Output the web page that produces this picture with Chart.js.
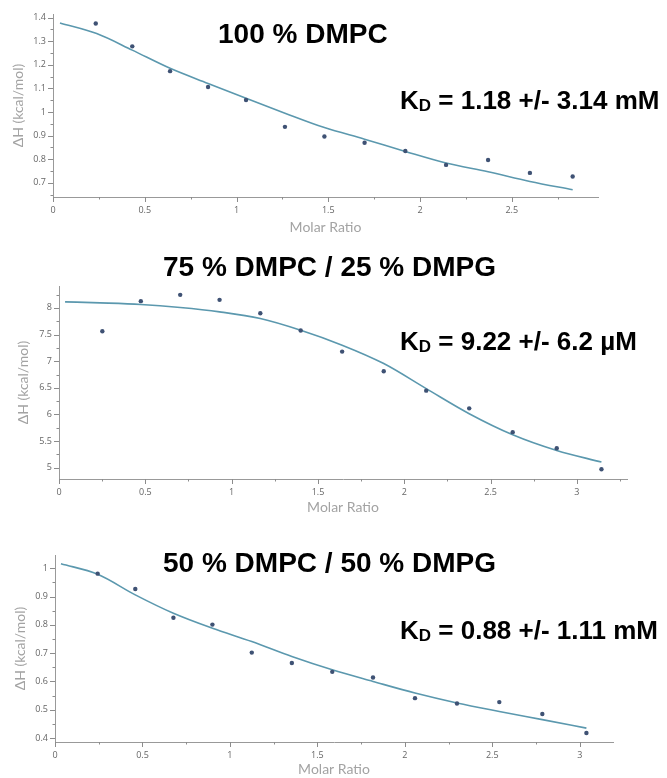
<!DOCTYPE html>
<html>
<head>
<meta charset="utf-8">
<script src="https://cdn.jsdelivr.net/npm/chart.js@4"></script>
<style>
  body { margin: 0; background: #fff; }
  #wrap { position: relative; width: 667px; height: 778px; overflow: hidden; }
  canvas { position: absolute; left: 0; }
  .title, .kd { position: absolute; font-family: "Liberation Sans", Arial, sans-serif; font-weight: bold; color: #000; white-space: nowrap; }
  .title { font-size: 28px; line-height: 28px; }
  .kd { font-size: 26px; line-height: 26px; left: 400px; }
  .kd span { font-size: 17px; position: relative; top: 2px; }
</style>
</head>
<body>
<div id="wrap">
  <canvas id="c1" width="667" height="240" style="top:0px"></canvas>
  <canvas id="c2" width="667" height="270" style="top:250px"></canvas>
  <canvas id="c3" width="667" height="238" style="top:540px"></canvas>
  <div class="title" style="left:218px; top:20px">100 % DMPC</div>
  <div class="kd" style="top:87px">K<span>D</span> = 1.18 +/- 3.14 mM</div>
  <div class="title" style="left:163px; top:253px">75 % DMPC / 25 % DMPG</div>
  <div class="kd" style="top:328px">K<span>D</span> = 9.22 +/- 6.2 µM</div>
  <div class="title" style="left:163px; top:549px">50 % DMPC / 50 % DMPG</div>
  <div class="kd" style="top:617px">K<span>D</span> = 0.88 +/- 1.11 mM</div>
</div>
<script>
// 100 % DMPC
const x1 = [0.233, 0.432, 0.638, 0.845, 1.052, 1.264, 1.479, 1.698, 1.920, 2.142, 2.371, 2.599, 2.832];
const y1 = [1.375, 1.278, 1.173, 1.106, 1.051, 0.937, 0.896, 0.870, 0.835, 0.776, 0.797, 0.742, 0.727];
const fitX1 = [0.038, 0.238, 0.432, 0.638, 0.845, 1.052, 1.264, 1.479, 1.698, 1.920, 2.142, 2.371, 2.599, 2.832];
const fitY1 = [1.377, 1.332, 1.262, 1.185, 1.121, 1.058, 0.995, 0.934, 0.885, 0.833, 0.784, 0.747, 0.706, 0.671];
const xTicks1 = [0, 0.5, 1, 1.5, 2, 2.5];
const yTicks1 = [0.7, 0.8, 0.9, 1, 1.1, 1.2, 1.3, 1.4];

// 75 % DMPC / 25 % DMPG
const x2 = [0.251, 0.474, 0.702, 0.930, 1.166, 1.400, 1.640, 1.881, 2.127, 2.376, 2.628, 2.883, 3.142];
const y2 = [7.562, 8.126, 8.244, 8.150, 7.900, 7.575, 7.180, 6.810, 6.447, 6.115, 5.669, 5.368, 4.974];
const fitX2 = [0.035, 0.238, 0.474, 0.702, 0.930, 1.166, 1.400, 1.640, 1.881, 2.127, 2.376, 2.628, 2.883, 3.142];
const fitY2 = [8.113, 8.094, 8.064, 8.007, 7.925, 7.800, 7.580, 7.300, 6.955, 6.485, 6.015, 5.620, 5.325, 5.107];
const xTicks2 = [0, 0.5, 1, 1.5, 2, 2.5, 3];
const yTicks2 = [5, 5.5, 6, 6.5, 7, 7.5, 8];

// 50 % DMPC / 50 % DMPG
const x3 = [0.244, 0.459, 0.677, 0.900, 1.125, 1.354, 1.585, 1.818, 2.058, 2.298, 2.540, 2.786, 3.038];
const y3 = [0.981, 0.927, 0.825, 0.801, 0.702, 0.665, 0.634, 0.614, 0.541, 0.522, 0.527, 0.485, 0.418];
const fitX3 = [0.034, 0.244, 0.459, 0.677, 0.900, 1.125, 1.354, 1.585, 1.818, 2.058, 2.298, 2.540, 2.786, 3.038];
const fitY3 = [1.016, 0.979, 0.906, 0.841, 0.788, 0.741, 0.688, 0.641, 0.600, 0.559, 0.524, 0.494, 0.465, 0.435];
const xTicks3 = [0, 0.5, 1, 1.5, 2, 2.5, 3];
const yTicks3 = [0.4, 0.5, 0.6, 0.7, 0.8, 0.9, 1];

const tickFont = { family: 'Open Sans', size: 9 };
const titleFont = { family: 'Lato', size: 14 };

// majors + half-step minors, as scale ticks
function withMinors(majors, step, min, max) {
  let all = majors.map(v => ({ value: v, major: true }));
  majors.forEach(v => {
    [v - step, v + step].forEach(m => {
      m = Math.round(m * 1000) / 1000;
      if (m >= min && m <= max && !all.some(t => Math.abs(t.value - m) < 1e-6)) all.push({ value: m, major: false });
    });
  });
  return all.sort((a, b) => a.value - b.value);
}

const tickMarks = {
  id: 'tickMarks',
  afterDraw(chart) {
    const ctx = chart.ctx;
    const sx = chart.scales.x, sy = chart.scales.y;
    ctx.save();
    ctx.strokeStyle = '#8c8c8c';
    ctx.lineWidth = 1;
    sx.ticks.forEach(t => {
      const px = Math.round(sx.getPixelForValue(t.value)) + 0.5;
      ctx.beginPath();
      ctx.moveTo(px, sx.top);
      ctx.lineTo(px, sx.top + (t.major ? 5 : 2.5));
      ctx.stroke();
    });
    sy.ticks.forEach(t => {
      const py = Math.round(sy.getPixelForValue(t.value)) + 0.5;
      ctx.beginPath();
      ctx.moveTo(sy.right, py);
      ctx.lineTo(sy.right - (t.major ? 5 : 2.5), py);
      ctx.stroke();
    });
    ctx.restore();
  }
};

function makePanel(id, p) {
  const canvas = document.getElementById(id);
  const H = canvas.height;
  new Chart(canvas, {
    type: 'scatter',
    data: {
      datasets: [{
        data: p.xs.map((x, i) => ({ x: x, y: p.ys[i] })),
        pointRadius: 2.2,
        pointBorderWidth: 0,
        pointBackgroundColor: '#3f5274',
        showLine: false
      }, {
        data: p.fx.map((x, i) => ({ x: x, y: p.fy[i] })),
        showLine: true,
        pointRadius: 0,
        borderColor: '#5b98ae',
        borderWidth: 1.6,
        cubicInterpolationMode: 'monotone',
        fill: false
      }]
    },
    options: {
      responsive: false,
      animation: false,
      layout: { padding: { top: p.area.top, right: 667 - p.area.right, left: 0, bottom: 0 } },
      plugins: { legend: { display: false }, tooltip: { enabled: false } },
      scales: {
        x: {
          type: 'linear',
          min: p.xr[0], max: p.xr[1],
          afterBuildTicks: s => { s.ticks = withMinors(p.xt, 0.25, p.xr[0], p.xr[1]); },
          afterFit: s => { s.height = H - p.area.bottom; },
          ticks: {
            autoSkip: false, maxRotation: 0, padding: 8, font: tickFont, color: '#666',
            callback: (v, i, ticks) => ticks[i].major ? String(v) : ''
          },
          grid: { display: false, drawTicks: false },
          border: { color: '#999' },
          title: { display: true, text: 'Molar Ratio', font: titleFont, color: '#a3a3a3', padding: { top: 0, bottom: p.xTitlePad } }
        },
        y: {
          type: 'linear',
          min: p.yr[0], max: p.yr[1],
          afterBuildTicks: s => { s.ticks = withMinors(p.yt, p.ys2, p.yr[0], p.yr[1]); },
          afterFit: s => { s.width = p.area.left; },
          ticks: {
            autoSkip: false, padding: 7, font: tickFont, color: '#666',
            callback: (v, i, ticks) => ticks[i].major ? String(v) : ''
          },
          grid: { display: false, drawTicks: false },
          border: { color: '#999' },
          title: { display: true, text: 'ΔH (kcal/mol)', font: titleFont, color: '#a3a3a3', padding: { top: p.yTitlePad, bottom: 0 } }
        }
      }
    },
    plugins: [tickMarks]
  });
}

makePanel('c1', {
  xs: x1, ys: y1, fx: fitX1, fy: fitY1, xt: xTicks1, yt: yTicks1, ys2: 0.05,
  xr: [0, 2.97], yr: [0.64, 1.415], yTitlePad: 10, xTitlePad: 4.5,
  area: { left: 53, top: 14, right: 598, bottom: 197 }
});
makePanel('c2', {
  xs: x2, ys: y2, fx: fitX2, fy: fitY2, xt: xTicks2, yt: yTicks2, ys2: 0.25,
  xr: [0, 3.29], yr: [4.79, 8.41], yTitlePad: 15, xTitlePad: 4.5,
  area: { left: 59, top: 36, right: 627, bottom: 229 }
});
makePanel('c3', {
  xs: x3, ys: y3, fx: fitX3, fy: fitY3, xt: xTicks3, yt: yTicks3, ys2: 0.05,
  xr: [0, 3.19], yr: [0.386, 1.047], yTitlePad: 12, xTitlePad: 0,
  area: { left: 55, top: 15, right: 613, bottom: 202 }
});
</script>
</body>
</html>
